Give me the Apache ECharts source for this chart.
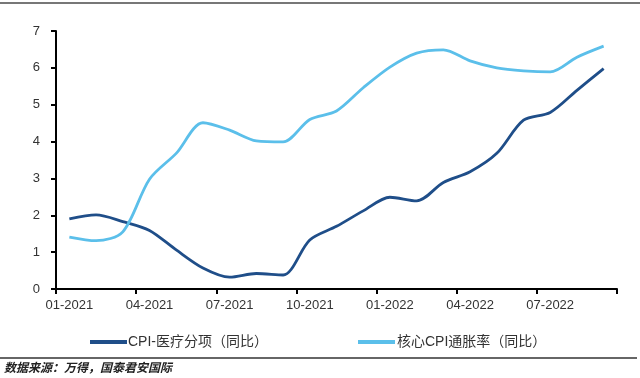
<!DOCTYPE html>
<html>
<head>
<meta charset="utf-8">
<script src="https://cdn.jsdelivr.net/npm/echarts@6/dist/echarts.min.js"></script>
<style>
html,body{margin:0;padding:0;background:#fff;}
#chart{width:640px;height:378px;}
</style>
</head>
<body>
<div id="chart"></div>
<script>
var categories = ['01-2021','02-2021','03-2021','04-2021','05-2021','06-2021','07-2021','08-2021','09-2021','10-2021','11-2021','12-2021',
  '01-2022','02-2022','03-2022','04-2022','05-2022','06-2022','07-2022','08-2022','09-2022'];
var medicalCPI = [1.90,2.01,1.83,1.59,1.06,0.57,0.32,0.42,0.38,1.33,1.70,2.12,2.49,2.39,2.89,3.18,3.68,4.58,4.79,5.39,5.98];
var coreCPI = [1.41,1.31,1.55,2.98,3.68,4.51,4.31,4.02,3.99,4.60,4.83,5.46,6.02,6.40,6.49,6.19,6.00,5.92,5.89,6.29,6.59];
var seriesNames = ['CPI-医疗分项（同比）','核心CPI通胀率（同比）'];
var yTicks = [0,1,2,3,4,5,6,7];
var sourceText = '数据来源：万得，国泰君安国际';

var FONT = '"Liberation Sans", Arial, "Noto Sans CJK SC", sans-serif';
var chart = echarts.init(document.getElementById('chart'), null, {renderer:'canvas'});
chart.setOption({
  animation: false,
  backgroundColor: '#fff',
  textStyle: {fontFamily: FONT},
  grid: {left: 56, right: 23, top: 31, bottom: 89, containLabel: false},
  xAxis: {
    type: 'category',
    data: categories,
    boundaryGap: true,
    axisLine: {lineStyle: {color: '#000', width: 2}},
    axisTick: {show: true, interval: 2, length: 5, lineStyle: {color: '#000', width: 2}},
    axisLabel: {interval: 2, color: '#333', fontSize: 13, fontFamily: FONT, margin: 10},
    splitLine: {show: false}
  },
  yAxis: {
    type: 'value',
    min: yTicks[0], max: yTicks[yTicks.length-1], interval: 1,
    axisLine: {show: true, lineStyle: {color: '#000', width: 2}},
    axisTick: {show: true, length: 5, lineStyle: {color: '#000', width: 2}},
    axisLabel: {color: '#333', fontSize: 13, fontFamily: FONT, margin: 16},
    splitLine: {show: false}
  },
  legend: [
    {data: [seriesNames[0]], left: 85, top: 330, icon: 'rect', itemWidth: 37, itemHeight: 4, itemGap: 3,
     textStyle: {color: '#333', fontSize: 14, fontFamily: FONT, padding: [0,0,0,-4]}},
    {data: [seriesNames[1]], left: 353, top: 330, icon: 'rect', itemWidth: 37, itemHeight: 4, itemGap: 3,
     textStyle: {color: '#333', fontSize: 14, fontFamily: FONT, padding: [0,0,0,-3]}}
  ],
  series: [
    {name: seriesNames[0], type: 'line', data: medicalCPI, smooth: 0.3, symbol: 'none',
     lineStyle: {color: '#1F4E89', width: 2.8}, itemStyle: {color: '#1F4E89'}},
    {name: seriesNames[1], type: 'line', data: coreCPI, smooth: 0.3, symbol: 'none',
     lineStyle: {color: '#5BBFEA', width: 2.8}, itemStyle: {color: '#5BBFEA'}}
  ],
  graphic: [
    {type: 'line', shape: {x1: 0, y1: 3, x2: 640, y2: 3}, style: {stroke: '#777', lineWidth: 2}},
    {type: 'line', shape: {x1: 0, y1: 358, x2: 637, y2: 358}, style: {stroke: '#666', lineWidth: 2}},
    {type: 'text', left: 4, top: 361, style: {text: sourceText, fill: '#222', font: 'italic bold 12px "Noto Sans CJK SC", sans-serif'}}
  ]
});
</script>
</body>
</html>
